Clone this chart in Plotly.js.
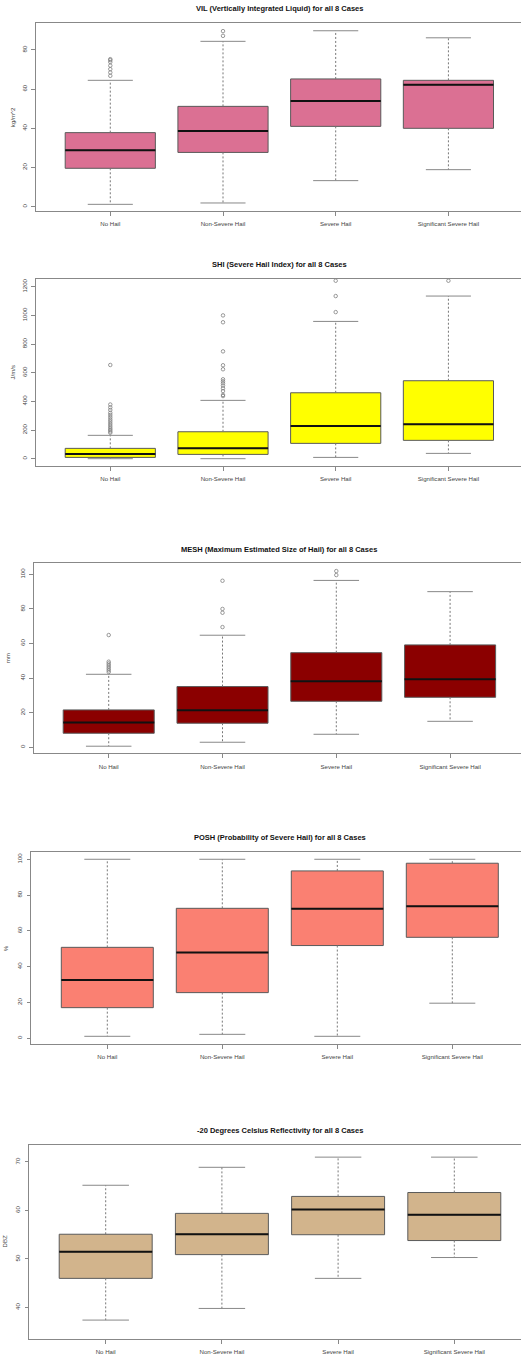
<!DOCTYPE html>
<html><head><meta charset="utf-8">
<script src="https://cdn.plot.ly/plotly-3.0.1.min.js"></script>
<style>html,body{margin:0;padding:0;overflow:hidden;background:#fff}#chart{width:532px;height:1356px}</style>
</head><body><div id="chart"></div>
<script>
const categories = ["No Hail", "Non-Severe Hail", "Severe Hail", "Significant Severe Hail"];
const xpos = [1, 2, 3, 4];

// VIL
const vilQ1 = [19.6, 27.7, 41.0, 40.0];
const vilMed = [28.8, 38.6, 53.9, 62.2];
const vilQ3 = [37.8, 51.2, 65.2, 64.5];
const vilLo = [1.2, 1.9, 13.3, 18.9];
const vilHi = [64.5, 84.4, 89.8, 86.2];
const vilOut = [[66.8, 68.5, 70.2, 72.0, 73.8, 74.8, 75.3], [87.2, 89.6], [], []];

// SHI
const shiQ1 = [9, 30, 107, 128];
const shiMed = [33, 72, 228, 240];
const shiQ3 = [72, 188, 460, 544];
const shiLo = [0, 0, 9, 37];
const shiHi = [163, 407, 958, 1135];
const shiOut = [[181, 190, 200, 210, 222, 235, 248, 262, 275, 290, 305, 320, 340, 358, 378, 654],
                [437, 445, 472, 491, 510, 526, 540, 554, 624, 652, 749, 952, 1000],
                [1023, 1135, 1242], [1242]];

// MESH
const meshQ1 = [8.1, 13.9, 26.6, 28.9];
const meshMed = [14.3, 21.4, 38.2, 39.3];
const meshQ3 = [21.6, 35.1, 54.7, 59.2];
const meshLo = [0.6, 2.9, 7.5, 15.0];
const meshHi = [42.2, 64.8, 96.5, 90.0];
const meshOut = [[43.5, 44.5, 45.5, 46.5, 47.5, 48.5, 49.5, 64.9], [69.5, 77.8, 80.0, 96.3], [99.6, 101.9], []];

// POSH
const poshQ1 = [17.1, 25.5, 51.8, 56.4];
const poshMed = [32.6, 47.9, 72.4, 73.7];
const poshQ3 = [50.8, 72.6, 93.5, 97.8];
const poshLo = [1.1, 2.2, 1.1, 19.6];
const poshHi = [100, 100, 100, 100];
const poshOut = [[], [], [], []];

// -20 C reflectivity
const refQ1 = [46.0, 50.9, 55.0, 53.8];
const refMed = [51.5, 55.1, 60.2, 59.1];
const refQ3 = [55.1, 59.4, 62.9, 63.7];
const refLo = [37.4, 39.8, 46.0, 50.3];
const refHi = [65.2, 68.9, 71.0, 71.0];
const refOut = [[], [], [], []];

const titles = ["VIL (Vertically Integrated Liquid) for all 8 Cases", "SHI (Severe Hail Index) for all 8 Cases",
  "MESH (Maximum Estimated Size of Hail) for all 8 Cases", "POSH (Probability of Severe Hail) for all 8 Cases",
  "-20 Degrees Celsius Reflectivity for all 8 Cases"];
const yTitles = ["kg/m^2", "J/m/s", "mm", "%", "DBZ"];
const yDticks = [20, 200, 20, 20, 10];

const W = 532, H = 1356;
const panels = [
  {q1: vilQ1, med: vilMed, q3: vilQ3, lo: vilLo, hi: vilHi, out: vilOut, color: "#DB7093",
   left: 35.9, right: 522.8, top: 23.3, bottom: 211, yr: [-2.2, 93.6], ttlY: 9, ytX: 12},
  {q1: shiQ1, med: shiMed, q3: shiQ3, lo: shiLo, hi: shiHi, out: shiOut, color: "#FFFF00",
   left: 35.9, right: 522.8, top: 279, bottom: 466, yr: [-51, 1254], ttlY: 264.7, ytX: 12},
  {q1: meshQ1, med: meshMed, q3: meshQ3, lo: meshLo, hi: meshHi, out: meshOut, color: "#8B0000",
   left: 33.6, right: 525.2, top: 563.3, bottom: 753.3, yr: [-3.5, 106.4], ttlY: 549.3, ytX: 7},
  {q1: poshQ1, med: poshMed, q3: poshQ3, lo: poshLo, hi: poshHi, out: poshOut, color: "#FA8072",
   left: 31.4, right: 528.2, top: 852.3, bottom: 1044, yr: [-3.2, 103.9], ttlY: 837.3, ytX: 5},
  {q1: refQ1, med: refMed, q3: refQ3, lo: refLo, hi: refHi, out: refOut, color: "#D2B48C",
   left: 29.0, right: 531.0, top: 1145, bottom: 1339, yr: [33.5, 73.5], ttlY: 1130, ytX: 3.5}
];

const FONT = "Liberation Sans, Arial, sans-serif";
const traces = [];
const layout = {
  width: W, height: H, margin: {l: 0, r: 0, t: 0, b: 0},
  paper_bgcolor: "#fff", plot_bgcolor: "#fff", showlegend: false,
  font: {family: FONT}, annotations: []
};

panels.forEach((p, k) => {
  const s = k === 0 ? "" : String(k + 1);
  const xa = "x" + s, ya = "y" + s;
  const wx = [], wy = [], cx = [], cy = [];
  xpos.forEach((x, i) => {
    wx.push(x, x, null, x, x, null);
    wy.push(p.q3[i], p.hi[i], null, p.q1[i], p.lo[i], null);
    cx.push(x - 0.2, x + 0.2, null, x - 0.2, x + 0.2, null);
    cy.push(p.hi[i], p.hi[i], null, p.lo[i], p.lo[i], null);
  });
  traces.push({type: "scatter", mode: "lines", x: wx, y: wy, xaxis: xa, yaxis: ya,
    line: {color: "#777", width: 1, dash: "2px,2px"}, hoverinfo: "skip"});
  traces.push({type: "scatter", mode: "lines", x: cx, y: cy, xaxis: xa, yaxis: ya,
    line: {color: "#888", width: 1}, hoverinfo: "skip"});
  traces.push({type: "box", x: xpos, q1: p.q1, median: p.med, q3: p.q3, lowerfence: p.q1, upperfence: p.q3,
    width: 0.8, whiskerwidth: 0, fillcolor: p.color, line: {color: "#5a5a5a", width: 1},
    boxpoints: false, xaxis: xa, yaxis: ya, hoverinfo: "skip"});
  const mx = [], my = [];
  xpos.forEach((x, i) => { mx.push(x - 0.4, x + 0.4, null); my.push(p.med[i], p.med[i], null); });
  traces.push({type: "scatter", mode: "lines", x: mx, y: my, xaxis: xa, yaxis: ya,
    line: {color: "#111", width: 2}, hoverinfo: "skip"});
  const ox = [], oy = [];
  p.out.forEach((arr, i) => arr.forEach(v => { ox.push(xpos[i]); oy.push(v); }));
  if (ox.length) traces.push({type: "scatter", mode: "markers", x: ox, y: oy, xaxis: xa, yaxis: ya,
    marker: {symbol: "circle-open", size: 3.5, color: "#808080", line: {width: 0.8}}, hoverinfo: "skip"});

  layout["xaxis" + s] = {
    domain: [p.left / W, p.right / W], anchor: ya, range: [0.34, 4.66],
    tickmode: "array", tickvals: xpos, ticktext: categories,
    ticks: "outside", ticklen: 4, tickcolor: "#888", ticklabelstandoff: 3,
    showline: true, mirror: true, linecolor: "#888", linewidth: 1,
    showgrid: false, zeroline: false, fixedrange: true,
    tickfont: {size: 6.1, color: "#444", family: FONT}
  };
  layout["yaxis" + s] = {
    domain: [1 - p.bottom / H, 1 - p.top / H], anchor: xa, range: p.yr,
    tickmode: "linear", tick0: 0, dtick: yDticks[k], tickangle: -90,
    ticks: "outside", ticklen: 3.5, tickcolor: "#888", ticklabelstandoff: 2,
    showline: true, mirror: true, linecolor: "#888", linewidth: 1,
    showgrid: false, zeroline: false, fixedrange: true,
    tickfont: {size: 6.1, color: "#444", family: FONT}
  };
  layout.annotations.push({
    xref: "paper", yref: "paper", x: (p.left + p.right) / 2 / W, y: 1 - p.ttlY / H,
    xanchor: "center", yanchor: "middle", showarrow: false, text: "<b>" + titles[k] + "</b>",
    font: {size: 7.5, color: "#111", family: FONT}
  });
  layout.annotations.push({
    xref: "paper", yref: "paper", x: p.ytX / W, y: 1 - (p.top + p.bottom) / 2 / H,
    xanchor: "center", yanchor: "middle", showarrow: false, textangle: -90, text: yTitles[k],
    font: {size: 6.1, color: "#444", family: FONT}
  });
});

Plotly.newPlot("chart", traces, layout, {displayModeBar: false, staticPlot: true});
</script></body></html>
